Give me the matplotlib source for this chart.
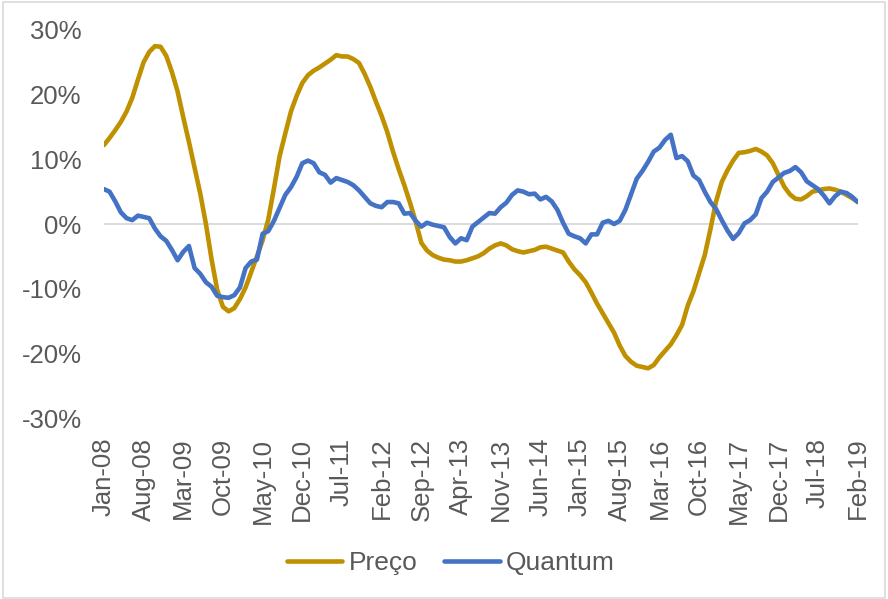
import pandas as pd
import matplotlib
matplotlib.use('Agg')
from matplotlib import pyplot as plt
from matplotlib.patches import Rectangle

# dados mensais, jan/2008 a fev/2019 (variação % em 12 meses)
meses = pd.date_range('2008-01-01', periods=134, freq='MS')

preco = [12.2, 13.3, 14.5, 15.8, 17.4, 19.5, 22.3, 25.0, 26.6, 27.5,
         27.4, 26.0, 23.5, 20.5, 16.5, 12.7, 8.7, 4.7, 0.0, -5.5,
         -10.2, -12.8, -13.5, -13.0, -11.6, -9.8, -7.4, -5.0, -2.5, 0.7,
         5.5, 10.5, 14.0, 17.4, 19.8, 21.8, 23.0, 23.7, 24.2, 24.8,
         25.4, 26.1, 25.9, 25.9, 25.5, 24.9, 23.2, 21.2, 18.9, 16.7,
         14.2, 11.2, 8.5, 6.0, 3.3, 0.4, -2.9, -4.1, -4.8, -5.2,
         -5.5, -5.6, -5.8, -5.8, -5.6, -5.3, -5.0, -4.5, -3.8, -3.3,
         -3.0, -3.3, -3.9, -4.2, -4.4, -4.2, -4.0, -3.6, -3.5, -3.8,
         -4.1, -4.4, -5.8, -7.0, -7.9, -9.0, -10.6, -12.3, -13.8, -15.3,
         -16.8, -18.8, -20.4, -21.3, -21.9, -22.1, -22.3, -21.8, -20.6, -19.6,
         -18.6, -17.2, -15.6, -12.6, -10.4, -7.6, -4.8, -0.8, 3.5, 6.5,
         8.3, 9.8, 11.0, 11.1, 11.3, 11.6, 11.2, 10.6, 9.4, 7.6,
         5.8, 4.6, 3.9, 3.8, 4.3, 5.0, 5.2, 5.4, 5.5, 5.3,
         5.0, 4.5, 4.0, 3.4]

quantum = [5.4, 5.0, 3.5, 1.8, 0.9, 0.6, 1.3, 1.1, 0.9, -0.7,
           -1.9, -2.6, -4.0, -5.6, -4.3, -3.4, -6.8, -7.7, -9.0, -9.7,
           -11.1, -11.3, -11.4, -11.0, -9.8, -6.8, -5.8, -5.5, -1.5, -1.1,
           0.5, 2.5, 4.5, 5.7, 7.3, 9.4, 9.8, 9.4, 8.0, 7.6,
           6.4, 7.1, 6.8, 6.5, 6.0, 5.2, 4.2, 3.2, 2.8, 2.6,
           3.4, 3.4, 3.2, 1.6, 1.7, 0.5, -0.4, 0.2, -0.1, -0.3,
           -0.5, -2.0, -3.0, -2.2, -2.5, -0.4, 0.3, 1.0, 1.7, 1.6,
           2.6, 3.3, 4.5, 5.2, 5.0, 4.6, 4.7, 3.8, 4.2, 3.5,
           2.2, 0.2, -1.5, -1.9, -2.2, -3.0, -1.6, -1.6, 0.2, 0.5,
           0.0, 0.5, 2.2, 4.6, 7.0, 8.2, 9.6, 11.2, 11.8, 13.0,
           13.8, 10.2, 10.5, 9.7, 7.5, 6.8, 5.0, 3.4, 2.3, 0.6,
           -1.0, -2.3, -1.4, 0.1, 0.6, 1.5, 4.0, 5.0, 6.5, 7.2,
           7.9, 8.2, 8.8, 8.0, 6.6, 6.0, 5.4, 4.4, 3.2, 4.3,
           5.0, 4.8, 4.2, 3.4]

rotulos_x = ['Jan-08', 'Aug-08', 'Mar-09', 'Oct-09', 'May-10', 'Dec-10', 'Jul-11',
             'Feb-12', 'Sep-12', 'Apr-13', 'Nov-13', 'Jun-14', 'Jan-15', 'Aug-15',
             'Mar-16', 'Oct-16', 'May-17', 'Dec-17', 'Jul-18', 'Feb-19']
y_ticks = [-30, -20, -10, 0, 10, 20, 30]

plt.rcParams['font.family'] = ['Liberation Sans', 'DejaVu Sans']
cinza = '#595959'

fig = plt.figure(figsize=(8.88, 5.99), dpi=100)
ax = fig.add_axes([0.117, 0.302, 0.849, 0.648])

x = list(range(len(meses)))
ax.axhline(0, color='#d9d9d9', lw=1.3, zorder=1)
ax.plot(x, preco, color='#BF9000', lw=3.3, label='Preço', zorder=3,
        solid_joinstyle='round', solid_capstyle='round')
ax.plot(x, quantum, color='#4472C4', lw=3.3, label='Quantum', zorder=4,
        solid_joinstyle='round', solid_capstyle='round')

ax.set_xlim(0, len(meses) - 1)
ax.set_ylim(-30, 30)
ax.set_yticks(y_ticks)
ax.set_yticklabels(['%d%%' % v for v in y_ticks])
ax.set_xticks(x[::7])
ax.set_xticklabels(rotulos_x, rotation=90)
for s in ax.spines.values():
    s.set_visible(False)
ax.tick_params(axis='y', length=0, pad=16, labelsize=18.5, labelcolor=cinza)
ax.tick_params(axis='x', length=0, pad=14, labelsize=18.5, labelcolor=cinza)

fig.legend(loc='center', bbox_to_anchor=(0.508, 0.06), ncol=2, frameon=False,
           fontsize=19, handlelength=2.1, handletextpad=0.25, columnspacing=1.0,
           labelcolor=cinza)

fig.patches.append(Rectangle((0.003, 0.002), 0.994, 0.995, transform=fig.transFigure,
                             fill=False, edgecolor='#d9d9d9', lw=1.2))

fig.savefig('out.png', dpi=100)
